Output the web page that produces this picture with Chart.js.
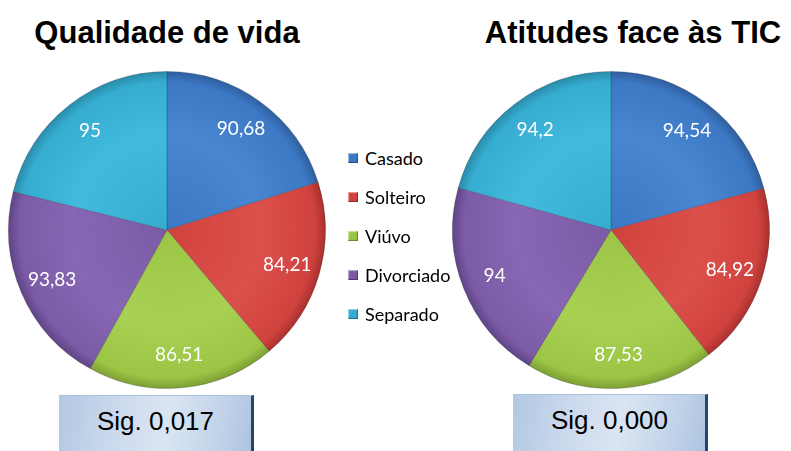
<!DOCTYPE html>
<html>
<head>
<meta charset="utf-8">
<script src="https://cdn.jsdelivr.net/npm/chart.js@4.4.1/dist/chart.umd.min.js"></script>
<style>
  html, body { margin: 0; padding: 0; background: #ffffff; }
  body { width: 791px; height: 451px; position: relative; overflow: hidden; }
  .title { position: absolute; top: 17px; width: 360px; margin-left: -180px; text-align: center;
           font-family: "Liberation Sans", Arial, sans-serif; font-weight: bold; font-size: 31px; line-height: 31px; color: #000; white-space: nowrap; }
  .wrap { position: absolute; top: 60px; width: 334px; height: 340px; }
  .sig { position: absolute; top: 395px; width: 195px; height: 60px; box-sizing: border-box;
         border-top: 1px solid #a9c1df; border-left: 1px solid #b3c8e3; border-right: 3px solid #27446f;
         background: linear-gradient(100deg, #b3c8e3 0%, #cfdcee 35%, #dae5f2 55%, #bfd1e8 85%, #adc3e0 100%); }
  .sigtxt { position: absolute; top: 12px; left: 0; right: 0; text-align: center;
            font-family: "Liberation Sans", Arial, sans-serif; font-size: 26px; line-height: 26px; color: #000; }
  #legend { position: absolute; left: 348px; top: 148px; }
  .lrow { position: absolute; left: 0; height: 20px; display: flex; align-items: center; white-space: nowrap;
          font-family: Lato, "Open Sans", sans-serif; font-size: 18px; color: #000; }
  .lbox { width: 10px; height: 10px; margin-right: 7px; box-shadow: inset -1px -1px 1px rgba(0,0,0,0.35), inset 1px 1px 1px rgba(255,255,255,0.5); }
</style>
</head>
<body>
<div class="title" style="left:167px">Qualidade de vida</div>
<div class="title" style="left:633px">Atitudes face às TIC</div>
<div class="wrap" style="left:0px"><canvas id="c1" width="334" height="340"></canvas></div>
<div class="wrap" style="left:444px"><canvas id="c2" width="334" height="340"></canvas></div>
<div id="legend"></div>
<div class="sig" style="left:59px"><div class="sigtxt" id="s1"></div></div>
<div class="sig" style="left:513px; top:394px"><div class="sigtxt" id="s2"></div></div>
<script>
const categories = ["Casado", "Solteiro", "Viúvo", "Divorciado", "Separado"];
const qualidadeValues = [90.68, 84.21, 86.51, 93.83, 95];
const atitudesValues = [94.54, 84.92, 87.53, 94, 94.2];
const chartTitles = ["Qualidade de vida", "Atitudes face às TIC"];
const sigLabels = ["Sig. 0,017", "Sig. 0,000"];
const sliceColors = ["#3c78c4", "#d0423e", "#9cc445", "#7b5aa6", "#35acd0"];
const rimColors = ["#2f5e9c", "#a8302d", "#7c9e33", "#5e4485", "#2a8aa8"];
const lightColors = ["#4886d2", "#dc504c", "#a8d052", "#8767b3", "#42bade"];

document.getElementById('s1').textContent = sigLabels[0];
document.getElementById('s2').textContent = sigLabels[1];

const legend = document.getElementById('legend');
categories.forEach((c, i) => {
  const row = document.createElement('div');
  row.className = 'lrow';
  row.style.top = (i * 39) + 'px';
  const b = document.createElement('div');
  b.className = 'lbox';
  b.style.background = sliceColors[i];
  row.appendChild(b);
  const t = document.createElement('span');
  t.textContent = c;
  row.appendChild(t);
  legend.appendChild(row);
});

const labelPlugin = {
  id: 'sliceLabels',
  afterDatasetsDraw(chart) {
    const ctx = chart.ctx;
    const meta = chart.getDatasetMeta(0);
    const ds = chart.data.datasets[0];
    ctx.save();
    ctx.font = '19px Lato, "Open Sans", sans-serif';
    ctx.fillStyle = '#ffffff';
    ctx.textAlign = 'center';
    ctx.textBaseline = 'middle';
    meta.data.forEach((arc, i) => {
      const p = arc.getProps(['x', 'y', 'startAngle', 'endAngle', 'outerRadius'], true);
      const mid = (p.startAngle + p.endAngle) / 2;
      const r = p.outerRadius * 0.79;
      const txt = String(ds.data[i]).replace('.', ',');
      ctx.fillText(txt, p.x + Math.cos(mid) * r, p.y + Math.sin(mid) * r);
    });
    ctx.restore();
  }
};

function bg(context) {
  const chart = context.chart;
  const i = context.dataIndex;
  const area = chart.chartArea;
  if (!area) return sliceColors[i];
  const cx = (area.left + area.right) / 2, cy = (area.top + area.bottom) / 2;
  const r = Math.min(area.right - area.left, area.bottom - area.top) / 2;
  const g = chart.ctx.createRadialGradient(cx, cy, 0, cx, cy, r);
  g.addColorStop(0, sliceColors[i]);
  g.addColorStop(0.6, lightColors[i]);
  g.addColorStop(0.93, sliceColors[i]);
  g.addColorStop(1, rimColors[i]);
  return g;
}

function makePie(id, values, title) {
  return new Chart(document.getElementById(id), {
    type: 'pie',
    data: {
      labels: categories,
      datasets: [{
        label: title,
        data: values,
        backgroundColor: bg,
        borderColor: 'rgba(40,40,60,0.25)',
        borderWidth: 1
      }]
    },
    options: {
      responsive: false,
      animation: false,
      layout: { padding: { left: 8, right: 8, top: 11, bottom: 11 } },
      plugins: { legend: { display: false }, tooltip: { enabled: false }, title: { display: false } }
    },
    plugins: [labelPlugin]
  });
}

makePie('c1', qualidadeValues, chartTitles[0]);
makePie('c2', atitudesValues, chartTitles[1]);
</script>
</body>
</html>
